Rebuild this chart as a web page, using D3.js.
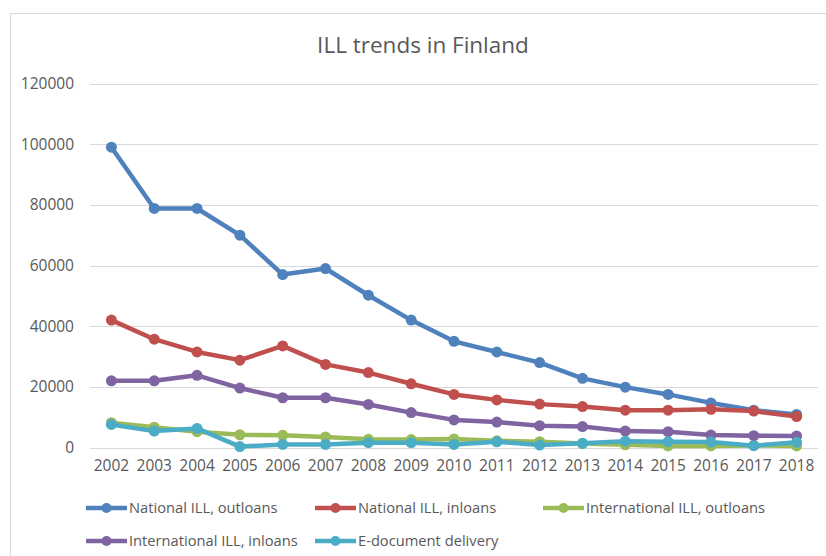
<!DOCTYPE html>
<html>
<head>
<meta charset="utf-8">
<script src="https://cdn.jsdelivr.net/npm/d3@7"></script>
<style>
  body { margin: 0; background: #fff; }
  text { font-family: "Open Sans", sans-serif; fill: #595959; }
</style>
</head>
<body>
<div id="chart"></div>
<script>
// data
var years = ["2002","2003","2004","2005","2006","2007","2008","2009","2010",
             "2011","2012","2013","2014","2015","2016","2017","2018"];
var nationalOut = [99000, 78800, 78800, 70000, 57000, 59000, 50200, 42000, 35000,
                   31500, 28000, 22800, 19900, 17500, 14700, 12300, 10900];
var nationalIn = [42000, 35700, 31500, 28800, 33500, 27400, 24700, 21000, 17500,
                  15700, 14300, 13500, 12300, 12300, 12600, 12000, 10200];
var internationalOut = [8200, 6700, 5200, 4200, 4000, 3500, 2700, 2600, 2800,
                        2200, 1900, 1300, 900, 500, 500, 700, 500];
var internationalIn = [22000, 22000, 23800, 19600, 16400, 16400, 14200, 11500, 9100,
                       8400, 7200, 6900, 5400, 5200, 4100, 3900, 3800];
var eDelivery = [7600, 5400, 6300, 300, 1000, 1000, 1600, 1600, 1000,
                 1900, 800, 1400, 2100, 1900, 1800, 600, 1700];
var seriesNames = ["National ILL, outloans", "National ILL, inloans", "International ILL, outloans",
                   "International ILL, inloans", "E-document delivery"];
var seriesColors = ["#4f81bd", "#c0504d", "#9bbb59", "#8064a2", "#4bacc6"];
var yTicks = [0, 20000, 40000, 60000, 80000, 100000, 120000];

var W = 826, H = 556;
var margin = {top: 84, right: 8, bottom: 108, left: 90};

var series = [nationalOut, nationalIn, internationalOut, internationalIn, eDelivery]
  .map(function (vals, i) {
    return {name: seriesNames[i], color: seriesColors[i], values: vals};
  });

var svg = d3.select("#chart").append("svg")
  .attr("width", W)
  .attr("height", H);

// chart frame
svg.append("rect")
  .attr("x", 10.5).attr("y", 13.5)
  .attr("width", W).attr("height", H)
  .attr("fill", "none")
  .attr("stroke", "#d9d9d9");

svg.append("text")
  .attr("x", 423).attr("y", 53)
  .attr("text-anchor", "middle")
  .style("font-size", "22.5px")
  .text("ILL trends in Finland");

var x = d3.scaleBand()
  .domain(years)
  .range([margin.left, 818]);

var y = d3.scaleLinear()
  .domain([0, 120000])
  .range([447.5, 83.5]);

// gridlines
svg.append("g")
  .selectAll("line")
  .data(yTicks)
  .join("line")
  .attr("x1", margin.left).attr("x2", 818)
  .attr("y1", d => Math.round(y(d)) + 0.5)
  .attr("y2", d => Math.round(y(d)) + 0.5)
  .attr("stroke", "#d9d9d9")
  .attr("stroke-width", 1);

var yAxis = svg.append("g")
  .attr("transform", "translate(" + (margin.left - 16) + ",0)")
  .call(d3.axisLeft(y).tickValues(yTicks).tickSize(0).tickPadding(0).tickFormat(d3.format("d")));
yAxis.select(".domain").remove();
yAxis.selectAll("text").style("font-size", "15.5px").attr("fill", "#595959");

var xAxis = svg.append("g")
  .attr("transform", "translate(0," + 460 + ")")
  .call(d3.axisBottom(x).tickSize(0).tickPadding(0));
xAxis.select(".domain").remove();
xAxis.selectAll("text").style("font-size", "15.5px").attr("fill", "#595959");

var line = d3.line()
  .x((d, i) => x(years[i]) + x.bandwidth() / 2)
  .y(d => y(d));

var lines = svg.append("g");
series.forEach(function (s) {
  lines.append("path")
    .datum(s.values)
    .attr("fill", "none")
    .attr("stroke", s.color)
    .attr("stroke-width", 4.5)
    .attr("stroke-linejoin", "round")
    .attr("d", line);
  lines.append("g")
    .selectAll("circle")
    .data(s.values)
    .join("circle")
    .attr("cx", (d, i) => x(years[i]) + x.bandwidth() / 2)
    .attr("cy", d => y(d))
    .attr("r", 5.5)
    .attr("fill", s.color);
});

// legend
var legendPos = [[86, 508], [315, 508], [543, 508], [86, 541], [315, 541]];
var legend = svg.append("g");
series.forEach(function (s, i) {
  var g = legend.append("g")
    .attr("transform", "translate(" + legendPos[i][0] + "," + legendPos[i][1] + ")");
  g.append("line")
    .attr("x1", 0).attr("x2", 41)
    .attr("stroke", s.color)
    .attr("stroke-width", 4.5);
  g.append("circle")
    .attr("cx", 20.5).attr("r", 5)
    .attr("fill", s.color);
  g.append("text")
    .attr("x", 43)
    .attr("dy", "0.35em")
    .style("font-size", "14.7px")
    .text(s.name);
});
</script>
</body>
</html>
